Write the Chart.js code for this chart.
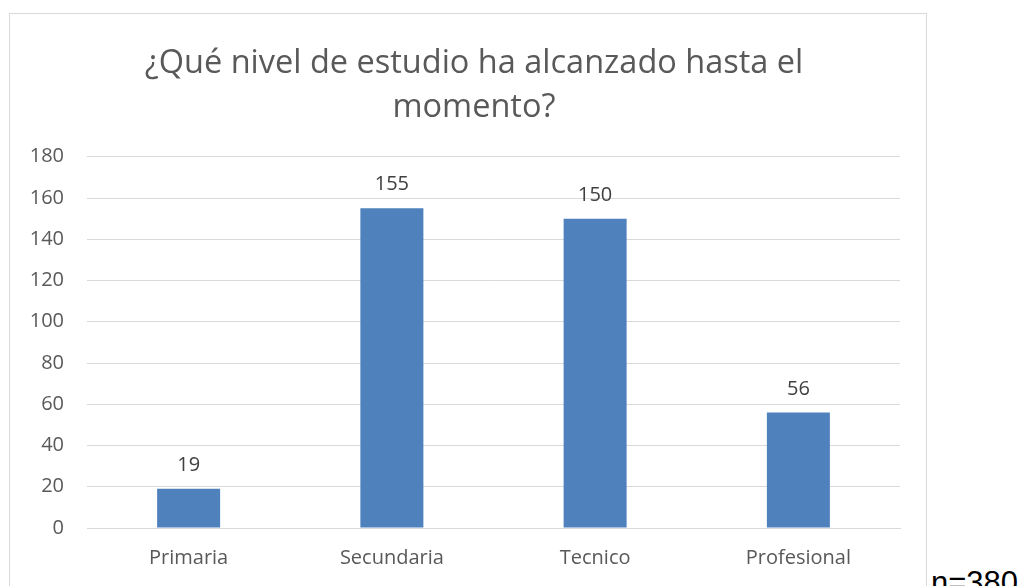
<!DOCTYPE html>
<html>
<head>
<meta charset="utf-8">
<script src="https://cdn.jsdelivr.net/npm/chart.js@4"></script>
<style>
  html, body { margin: 0; padding: 0; width: 1020px; height: 586px; overflow: hidden; background: #ffffff; }
  #box { position: absolute; left: 9px; top: 13px; width: 918px; height: 600px; border: 1px solid #d9d9d9; box-sizing: border-box; }
  #wrap { position: absolute; left: 0; top: 0; width: 917px; height: 573px; }
  #note { position: absolute; left: 931px; top: 563px; font-family: "Liberation Sans", Arial, sans-serif; font-size: 31px; line-height: 40px; color: #000; white-space: nowrap; }
</style>
</head>
<body>
<div id="box"><div id="wrap"><canvas id="c"></canvas></div></div>
<div id="note">n=380</div>
<script>
const categories = ["Primaria", "Secundaria", "Tecnico", "Profesional"];
const values = [19, 155, 150, 56];
const titleLines = ["¿Qué nivel de estudio ha alcanzado hasta el", "momento?"];
const yTicks = [0, 20, 40, 60, 80, 100, 120, 140, 160, 180];

const valueLabels = {
  id: 'valueLabels',
  afterDatasetsDraw(chart) {
    const ctx = chart.ctx;
    const meta = chart.getDatasetMeta(0);
    ctx.save();
    ctx.font = '20px "Open Sans"';
    ctx.fillStyle = '#404040';
    ctx.textAlign = 'center';
    ctx.textBaseline = 'alphabetic';
    meta.data.forEach((bar, i) => {
      ctx.fillText(String(chart.data.datasets[0].data[i]), bar.x, bar.y - 18);
    });
    ctx.restore();
  }
};

new Chart(document.getElementById('c'), {
  type: 'bar',
  data: {
    labels: categories,
    datasets: [{
      data: values,
      backgroundColor: '#4f81bd',
      borderWidth: 0,
      categoryPercentage: 1.0,
      barPercentage: 0.31
    }]
  },
  options: {
    responsive: true,
    maintainAspectRatio: false,
    animation: false,
    layout: { padding: { left: 11, right: 0, top: 0, bottom: 0 } },
    plugins: {
      legend: { display: false },
      tooltip: { enabled: false },
      title: {
        display: true,
        text: titleLines,
        color: '#595959',
        font: { family: '"Open Sans"', size: 32.5, weight: 'normal', lineHeight: 1.35 },
        padding: { top: 28, bottom: 27 }
      }
    },
    scales: {
      x: {
        grid: { display: false, drawTicks: false },
        border: { display: true, color: '#d9d9d9', width: 1 },
        ticks: { color: '#595959', font: { family: '"Open Sans"', size: 20 }, padding: 18, maxRotation: 0 },
        afterFit(scale) { scale.height = 59; }
      },
      y: {
        min: 0,
        max: 180,
        afterBuildTicks(scale) { scale.ticks = yTicks.map(v => ({ value: v })); },
        grid: { color: '#d9d9d9', lineWidth: 1, drawTicks: false },
        border: { display: false },
        ticks: { color: '#595959', font: { family: '"Open Sans"', size: 20 }, padding: 23 },
        afterFit(scale) { scale.width = 66; }
      },
      yRight: {
        type: 'linear',
        position: 'right',
        display: true,
        grid: { display: false, drawTicks: false },
        border: { display: false },
        ticks: { display: false },
        afterFit(scale) { scale.width = 27; }
      }
    }
  },
  plugins: [valueLabels]
});
</script>
</body>
</html>
